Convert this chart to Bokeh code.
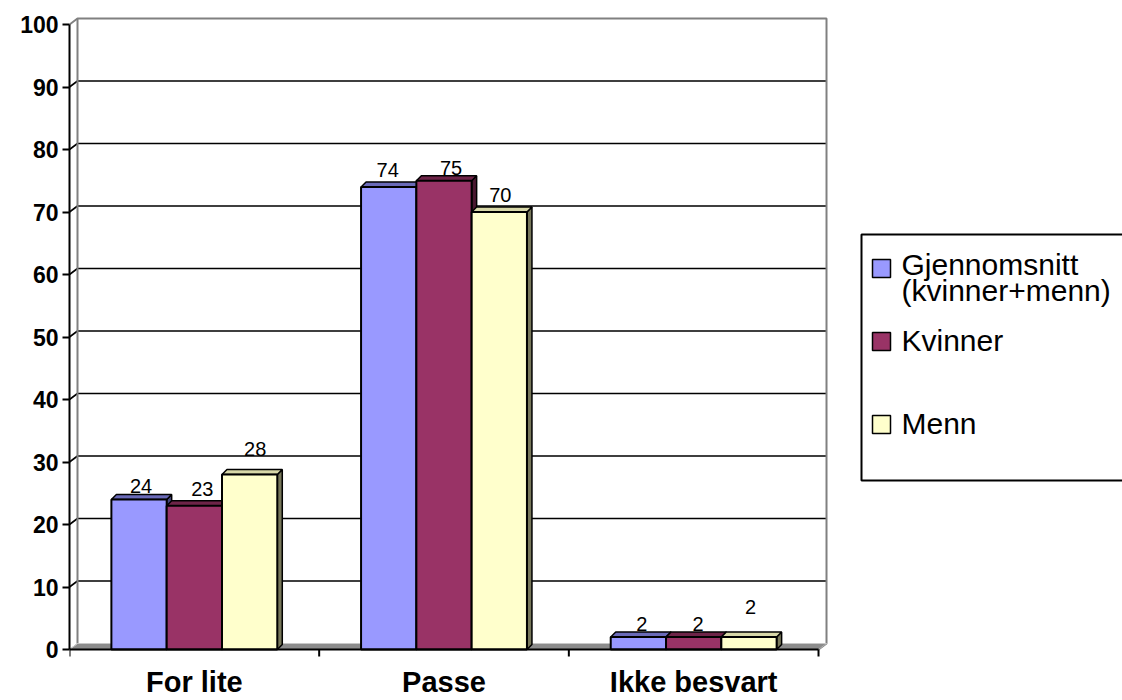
from bokeh.plotting import figure
from bokeh.models import FixedTicker, Range1d
from bokeh.core.properties import value
from bokeh.embed import file_html
from bokeh.resources import INLINE

# ---------------- data ----------------
categories = ["For lite", "Passe", "Ikke besvart"]
series_names = ["Gjennomsnitt\n(kvinner+menn)", "Kvinner", "Menn"]
gjennomsnitt = [24, 74, 2]
kvinner = [23, 75, 2]
menn = [28, 70, 2]
y_ticks = [0, 10, 20, 30, 40, 50, 60, 70, 80, 90, 100]

series = [gjennomsnitt, kvinner, menn]

# ---------------- style ----------------
front_colors = ["#9999FF", "#993366", "#FFFFCC"]
side_colors = ["#44447a", "#4a1830", "#77775a"]
top_colors = ["#6a6ab8", "#6e2448", "#d8d8a8"]
FONT = "Liberation Sans"

W, H = 1122, 700
LEFT = 69
ZERO_PX = 649          # pixel row of value 0
PX_X = 249.67          # pixels per category unit
PX_Y = 6.25            # pixels per value unit
X_END = (W - LEFT) / PX_X

def dx(px):
    return px / PX_X

def dy(px):
    return px / PX_Y

def row(px_row):
    # value coordinate of a pixel row
    return (ZERO_PX - px_row) / PX_Y

WALL_DX, WALL_DY = dx(8), dy(6)
BAR_DX, BAR_DY = dx(5), dy(5)
BW = dx(55.3)

# label nudges in pixels (dx, baseline height above front top edge)
label_nudge = [
    [(2, 7), (-1, 10.5), (3.5, 6.5)],
    [(8, 10), (7, 6), (4.5, 6.5)],
    [(5.5, 19), (1, 10), (1.5, 23)],
]

p = figure(width=W, height=H, output_backend="svg", toolbar_location=None,
           x_range=Range1d(0, X_END), y_range=Range1d(row(H), row(0)),
           x_axis_location=None, min_border_left=LEFT, min_border_right=0,
           min_border_top=0, min_border_bottom=0)
p.outline_line_color = None
p.xgrid.visible = False
p.ygrid.visible = False
p.background_fill_color = "white"
p.border_fill_color = "white"

# ---------------- back wall ----------------
n_cat = len(categories)
for t in y_ticks[1:-1]:
    p.line([0, WALL_DX, n_cat + WALL_DX], [t, t + WALL_DY, t + WALL_DY],
           line_color="black", line_width=1.6)
top = y_ticks[-1]
p.line([0, WALL_DX, n_cat + WALL_DX, n_cat + WALL_DX, n_cat],
       [top, top + WALL_DY, top + WALL_DY, WALL_DY, 0],
       line_color="#808080", line_width=2)
p.line([WALL_DX, WALL_DX], [WALL_DY, top + WALL_DY], line_color="#808080", line_width=2)

# floor
p.patch([0, WALL_DX, n_cat + WALL_DX, n_cat], [0, WALL_DY, WALL_DY, 0],
        fill_color="#8c8c8c", line_color="#b0b0b0", line_width=1)
p.line([0, WALL_DX, n_cat + WALL_DX], [0, WALL_DY, WALL_DY], line_color="#c8c8c8", line_width=1)

# ---------------- bars ----------------
for i, vals in enumerate(series):
    lefts, rights, tops = [], [], []
    sx, sy, txs, tys = [], [], [], []
    for j, v in enumerate(vals):
        c = j + 0.5 + (i - 1) * BW
        l, r = c - BW / 2, c + BW / 2
        lefts.append(l); rights.append(r); tops.append(v)
        sx.append([r, r + BAR_DX, r + BAR_DX, r])
        sy.append([0, BAR_DY, v + BAR_DY, v])
        txs.append([l, l + BAR_DX, r + BAR_DX, r])
        tys.append([v, v + BAR_DY, v + BAR_DY, v])
    p.patches(sx, sy, fill_color=side_colors[i], line_color="black", line_width=1.5)
    p.patches(txs, tys, fill_color=top_colors[i], line_color="black", line_width=1.5)
    p.quad(left=lefts, right=rights, bottom=0, top=tops, fill_color=front_colors[i],
           line_color="black", line_width=2)

# value labels (placed by the middle of the digits)
for i, vals in enumerate(series):
    xs, ys, txt = [], [], []
    for j, v in enumerate(vals):
        c = j + 0.5 + (i - 1) * BW
        ndx, ndy = label_nudge[i][j]
        xs.append(c + dx(ndx)); ys.append(v + dy(ndy + 7)); txt.append(str(v))
    p.text(x=xs, y=ys, text=txt, text_align="center", text_baseline="middle",
           text_font=value(FONT), text_font_size="20px", text_color="black")

# ---------------- x axis (drawn) ----------------
p.line([0, n_cat], [0, 0], line_color="black", line_width=2)
p.segment(x0=list(range(n_cat + 1)), y0=[0] * (n_cat + 1),
          x1=list(range(n_cat + 1)), y1=[-dy(7)] * (n_cat + 1),
          line_color="black", line_width=2)
p.text(x=[j + 0.5 for j in range(n_cat)], y=[row(681)] * n_cat, text=categories,
       text_align="center", text_baseline="middle", text_font=value(FONT),
       text_font_size="29px", text_font_style="bold", text_color="black")

# ---------------- y axis ----------------
ax = p.yaxis[0]
ax.ticker = FixedTicker(ticks=y_ticks)
ax.bounds = (0, 100)
ax.axis_line_color = "black"
ax.axis_line_width = 2
ax.major_tick_line_color = "black"
ax.major_tick_line_width = 2
ax.major_tick_out = 7
ax.major_tick_in = 0
ax.minor_tick_line_color = None
ax.major_label_standoff = 4
ax.major_label_text_font = FONT
ax.major_label_text_font_size = "23px"
ax.major_label_text_font_style = "bold"
ax.major_label_text_color = "black"

# ---------------- legend (drawn) ----------------
leg_left = dx(861 - LEFT)
p.quad(left=leg_left, right=X_END + 1, bottom=row(480), top=row(234),
       fill_color="white", line_color="black", line_width=2)
sq_x = dx(881 - LEFT)
sq_y = [row(268), row(341), row(424)]
p.rect(x=[sq_x] * 3, y=sq_y, width=18, height=18, width_units="screen",
       height_units="screen", fill_color=front_colors, line_color="black", line_width=1.5)
txt_x = dx(901 - LEFT)
mids = [[264, 290], [340], [422.5]]
lx, ly, lt = [], [], []
for name, ms in zip(series_names, mids):
    for line, m in zip(name.split("\n"), ms):
        lx.append(txt_x); ly.append(row(m)); lt.append(line)
p.text(x=lx, y=ly, text=lt, text_align="left", text_baseline="middle",
       text_font=value(FONT), text_font_size="30px", text_color="black")

open("out.html", "w").write(file_html(p, INLINE))
